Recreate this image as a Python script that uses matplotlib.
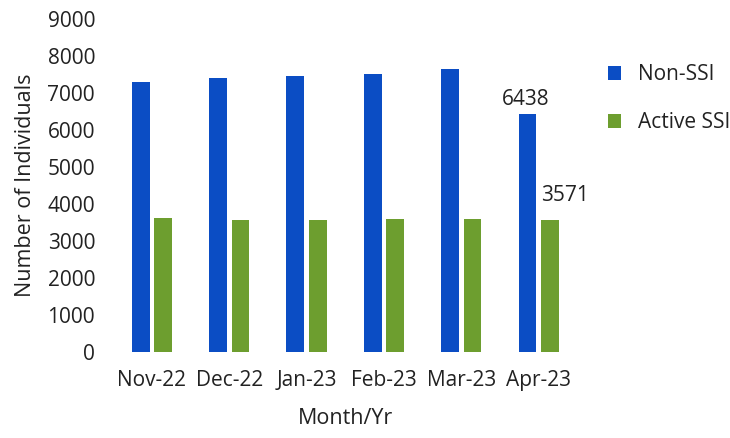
import matplotlib
matplotlib.use("Agg")
import matplotlib.pyplot as plt
import numpy as np

plt.rcParams['font.family'] = ['Open Sans', 'DejaVu Sans']

months = ["Nov-22", "Dec-22", "Jan-23", "Feb-23", "Mar-23", "Apr-23"]
non_ssi = [7290, 7390, 7450, 7500, 7640, 6438]
active_ssi = [3610, 3575, 3575, 3585, 3590, 3571]

blue = "#0B4DC4"
green = "#6D9E2F"
txt = "#222222"
fs = 15

fig = plt.figure(figsize=(7.3, 4.38), dpi=100)
ax = fig.add_axes([0.155, 0.196, 0.636, 0.761])

x = np.arange(len(months))
w = 0.23
off = 0.145
ax.bar(x - off, non_ssi, w, color=blue, label="Non-SSI")
ax.bar(x + off, active_ssi, w, color=green, label="Active SSI")

# data labels on the last month
ax.annotate(str(non_ssi[-1]), (x[-1] - off, non_ssi[-1]), xytext=(-1, 3),
            textcoords="offset points", ha="center", va="bottom",
            fontsize=fs, color=txt)
ax.annotate(str(active_ssi[-1]), (x[-1] + off, active_ssi[-1]), xytext=(11, 10),
            textcoords="offset points", ha="center", va="bottom",
            fontsize=fs, color=txt)

ax.set_xlim(-0.5, len(months) - 0.5)
ax.set_ylim(0, 9000)
ax.set_yticks(np.arange(0, 9001, 1000))
ax.set_xticks(x)
ax.set_xticklabels(months)
ax.tick_params(axis="both", length=0, labelsize=fs, labelcolor=txt)
ax.tick_params(axis="x", pad=13)
ax.tick_params(axis="y", pad=13)
for s in ax.spines.values():
    s.set_visible(False)

ax.set_xlabel("Month/Yr", fontsize=15.5, color=txt, labelpad=12)
ax.set_ylabel("Number of Individuals", fontsize=15.5, color=txt, labelpad=8)

ax.legend(loc="upper left", bbox_to_anchor=(1.025, 0.92), frameon=False,
          fontsize=fs, handlelength=0.65, handleheight=0.65,
          labelspacing=1.3, handletextpad=0.8, labelcolor=txt)

fig.savefig("out.png", dpi=100)
